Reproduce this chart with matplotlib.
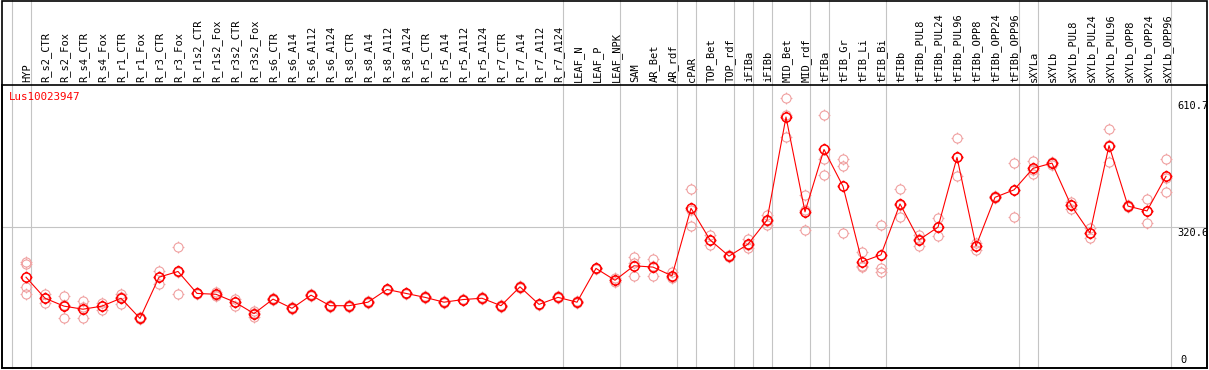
import matplotlib.pyplot as plt
import numpy as np
from matplotlib.path import Path
from matplotlib.patches import Rectangle

# data
names = ['HYP', 'R_s2_CTR', 'R_s2_Fox', 'R_s4_CTR', 'R_s4_Fox', 'R_r1_CTR', 'R_r1_Fox',
         'R_r3_CTR', 'R_r3_Fox', 'R_r1s2_CTR', 'R_r1s2_Fox', 'R_r3s2_CTR', 'R_r3s2_Fox',
         'R_s6_CTR', 'R_s6_A14', 'R_s6_A112', 'R_s6_A124', 'R_s8_CTR', 'R_s8_A14',
         'R_s8_A112', 'R_s8_A124', 'R_r5_CTR', 'R_r5_A14', 'R_r5_A112', 'R_r5_A124',
         'R_r7_CTR', 'R_r7_A14', 'R_r7_A112', 'R_r7_A124', 'LEAF_N', 'LEAF_P', 'LEAF_NPK',
         'SAM', 'AR_Bet', 'AR_rdf', 'cPAR', 'TOP_Bet', 'TOP_rdf', 'iFIBa', 'iFIBb',
         'MID_Bet', 'MID_rdf', 'tFIBa', 'tFIB_Gr', 'tFIB_Li', 'tFIB_Bi', 'tFIBb',
         'tFIBb_PUL8', 'tFIBb_PUL24', 'tFIBb_PUL96', 'tFIBb_OPP8', 'tFIBb_OPP24',
         'tFIBb_OPP96', 'sXYLa', 'sXYLb', 'sXYLb_PUL8', 'sXYLb_PUL24', 'sXYLb_PUL96',
         'sXYLb_OPP8', 'sXYLb_OPP24', 'sXYLb_OPP96']

means = [207, 159, 141, 134, 141, 159, 113, 207, 220, 170, 168, 150, 124,
         157, 136, 166, 142, 142, 150, 179, 170, 161, 150, 156, 159, 142, 185, 145, 161,
         150, 227, 200, 233, 230, 210, 364, 292, 255, 282, 337, 572, 356,
         498, 414, 242, 258, 374, 292, 321, 480, 278, 389, 406,
         455, 467, 371, 308, 507, 369, 358, 437]

reps = [[242, 236, 184, 168], [168, 160, 148], [165, 144, 113], [152, 138, 113],
        [149, 141, 132], [169, 161, 147], [116, 113, 111], [221, 207, 192],
        [275, 218, 168], [172, 170, 168], [174, 166, 165], [157, 151, 141],
        [130, 125, 117], [159, 157, 155], [138, 136, 134], [168, 166, 164],
        [144, 142, 140], [144, 142, 140], [152, 150, 148], [181, 179, 177],
        [172, 170, 168], [163, 161, 159], [152, 150, 148], [158, 156, 154],
        [161, 159, 157], [144, 142, 140], [187, 185, 183], [147, 145, 143],
        [163, 161, 159], [152, 150, 148], [229, 227, 225], [204, 200, 196],
        [254, 240, 210], [248, 232, 210], [218, 207, 204], [408, 360, 324],
        [302, 292, 281], [257, 255, 253], [293, 281, 273], [349, 335, 327],
        [615, 576, 526], [394, 359, 314], [577, 477, 441], [476, 460, 307],
        [264, 232, 230], [325, 229, 219], [408, 371, 344], [303, 294, 279],
        [342, 322, 300], [524, 480, 437], [286, 278, 270], [391, 389, 387],
        [467, 406, 344], [472, 451, 443], [470, 468, 463], [379, 371, 363],
        [318, 308, 297], [544, 508, 470], [372, 369, 366], [385, 358, 330],
        [476, 434, 400]]

group_sizes = [1, 28, 3, 3, 1, 2, 1, 1, 2, 1, 3, 7, 1, 7]
y_labels = [0, 320.6, 610.7]
gene = 'Lus10023947'

# circle with four little ticks, like the original marker
circ = Path.unit_circle()
tick_v = [(0, 1), (0, 1.3), (0, -1), (0, -1.3), (1, 0), (1.3, 0), (-1, 0), (-1.3, 0)]
tick_c = [Path.MOVETO, Path.LINETO] * 4
marker = Path.make_compound_path(circ, Path(tick_v, tick_c))

W, H = 1209, 370
fig = plt.figure(figsize=(W / 100, H / 100), dpi=100)
ax = fig.add_axes([2 / W, 2 / H, 1205 / W, 283 / H])

x = np.arange(len(names))
ax.set_xlim((2 - 26) / 19, (1207 - 26) / 19)
ax.set_ylim(0, 645)

font = 'DejaVu Sans Mono'
fs = 7.5
grey = '#c4c4c4'
pink = '#f0a0a0'

# group separator lines (run up through the header)
bounds = np.concatenate([[0], np.cumsum(group_sizes)])
for b in bounds:
    ax.axvline(b - 1 + 0.25, ymin=0, ymax=1 + 85 / 283, color=grey, lw=0.8,
               clip_on=False, zorder=1)
ax.axhline(y_labels[1], color=grey, lw=0.8, zorder=1)

for i, r in enumerate(reps):
    ax.plot([x[i]] * len(r), r, linestyle='none', marker=marker, ms=8.5,
            mfc='none', mec=pink, mew=0.8, zorder=2)
ax.plot(x, means, color='red', lw=0.8, marker=marker, ms=8.5, mfc='none',
        mec='red', mew=1.1, zorder=3)

# header labels
tr = ax.get_xaxis_transform()
for i, n in enumerate(names):
    ax.text(x[i] + 0.05, 1 + 3 / 283, n, transform=tr, rotation=90, ha='center',
            va='bottom', fontsize=fs, family=font, clip_on=False)

# value labels on the right
xl = (bounds[-1] - 1 + 0.25) + 0.35
ax.text(xl, y_labels[2] - 2, str(y_labels[2]), va='top', ha='left', fontsize=fs, family=font)
ax.text(xl, y_labels[1] - 2, str(y_labels[1]), va='top', ha='left', fontsize=fs, family=font)
ax.text(xl + 0.15, 6, str(y_labels[0]), va='bottom', ha='left', fontsize=fs, family=font)

fig.text(9 / W, 1 - 97 / H, gene, color='red', fontsize=fs + 0.3,
         family=font, va='center', ha='left')

for s in ax.spines.values():
    s.set_linewidth(1.2)
ax.set_xticks([])
ax.set_yticks([])

# outer frame
fig.add_artist(Rectangle((2 / W, 2 / H), 1205 / W, 367 / H, transform=fig.transFigure,
                         fill=False, ec='black', lw=1.2))

fig.savefig('out.png', dpi=100)
